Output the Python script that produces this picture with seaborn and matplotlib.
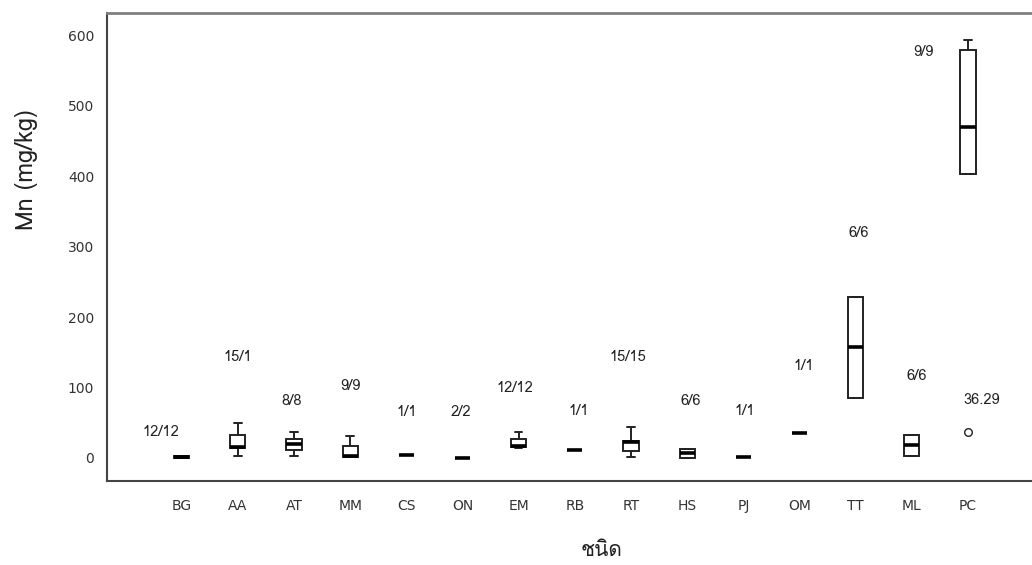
import numpy as np
import pandas as pd
import matplotlib
matplotlib.use("Agg")
import matplotlib.pyplot as plt
from matplotlib import font_manager
from matplotlib.ft2font import FT2Font
import seaborn as sns

# Plant species codes along the x axis
species = ["BG", "AA", "AT", "MM", "CS", "ON", "EM", "RB", "RT",
           "HS", "PJ", "OM", "TT", "ML", "PC"]

# Five-number summaries of Mn concentration (mg/kg) per species
lower_whisker = [0.0, 2.4, 2.8, 1.5, 3.8, 0.5, 14.2, 11.8, 1.0, 0.0, 1.9, 36.0, 85.0, 3.4, 403.8]
q1_values     = [0.0, 13.8, 11.4, 1.8, 3.8, 0.5, 15.5, 11.8, 10.4, 0.0, 1.9, 36.0, 85.0, 3.4, 403.8]
medians       = [1.0, 16.0, 20.3, 2.5, 3.8, 0.5, 16.5, 11.8, 22.3, 6.7, 1.9, 36.0, 157.0, 18.8, 469.5]
q3_values     = [2.5, 32.7, 27.4, 17.5, 3.8, 0.5, 27.4, 11.8, 24.6, 13.2, 1.9, 36.0, 228.7, 33.0, 580.0]
upper_whisker = [2.5, 49.3, 37.4, 31.7, 3.8, 0.5, 36.5, 11.8, 44.5, 13.2, 1.9, 36.0, 228.7, 33.0, 593.7]

# Outlying sample
outlier_species = ["PC"]
outlier_values = [36.29]

# Sample count annotations (text, x in category units, y in mg/kg)
count_texts = ["12/12", "15/1", "8/8", "9/9", "1/1", "2/2", "12/12", "1/1",
               "15/15", "6/6", "1/1", "1/1", "6/6", "6/6", "36.29", "9/9"]
count_x = [-0.37, 1.0, 1.96, 3.01, 4.0, 4.97, 5.93, 7.06,
           7.95, 9.07, 10.03, 11.08, 12.06, 13.09, 14.25, 13.2]
count_y = [37, 143.5, 81.4, 101.7, 65, 65, 99, 67.2,
           143.5, 81.4, 67.2, 130.7, 320, 116, 82.4, 576.4]

y_ticks = [0, 100, 200, 300, 400, 500, 600]


def find_font_with(char):
    """Return the family name of an installed font that covers `char`."""
    code = ord(char)
    for entry in font_manager.fontManager.ttflist:
        try:
            if code in FT2Font(entry.fname).get_charmap():
                return entry.name
        except Exception:
            continue
    return "DejaVu Sans"


sns.set_style("white")
thai_family = find_font_with("ช")
plt.rcParams["font.family"] = ["DejaVu Sans"]

# Long-form table built from the summaries
records = []
for i, sp in enumerate(species):
    for v in (lower_whisker[i], q1_values[i], medians[i], q3_values[i], upper_whisker[i]):
        records.append({"species": sp, "Mn": v})
df = pd.DataFrame(records)

fig = plt.figure(figsize=(10.32, 5.65), dpi=100)
ax = fig.add_axes([0.1034, 0.1487, 0.8966, 0.8288])

sns.boxplot(data=df, x="species", y="Mn", order=species, ax=ax,
            color="white", linecolor="#222222", linewidth=1.4, width=0.27,
            whis=(0, 100), showfliers=False,
            medianprops=dict(color="black", linewidth=2.6))

out_x = [species.index(s) for s in outlier_species]
sns.scatterplot(x=out_x, y=outlier_values, ax=ax, marker="o", s=30,
                facecolor="white", edgecolor="#222222", linewidth=1.0,
                legend=False, zorder=5)

for t, x, y in zip(count_texts, count_x, count_y):
    ax.text(x, y, t, ha="center", va="center", fontsize=10.5,
            color="#222222", family=[thai_family, "DejaVu Sans"])

ax.set_xlim(-1.335, 15.14)
ax.set_ylim(-32.7, 632.5)
ax.set_yticks(y_ticks)
ax.set_yticklabels([str(v) for v in y_ticks])

ax.tick_params(axis="both", direction="out", length=7, width=1.0,
               color="#444444", labelcolor="#333333", labelsize=10)
ax.tick_params(axis="x", pad=6)
ax.tick_params(axis="y", pad=2)

for side in ("left", "bottom"):
    ax.spines[side].set_color("#444444")
    ax.spines[side].set_linewidth(1.5)
ax.spines["top"].set_color("#808080")
ax.spines["top"].set_linewidth(2.0)
ax.spines["right"].set_visible(False)

ax.set_xlabel("ชนิด", fontsize=15, family=[thai_family, "DejaVu Sans"], color="#222222")
ax.xaxis.set_label_coords(0.535, -0.1495)
ax.set_ylabel("Mn (mg/kg)", fontsize=17, family=[thai_family, "DejaVu Sans"],
              color="#222222", fontweight="light")
ax.yaxis.set_label_coords(-0.0872, 0.664)
ax.xaxis.label.set_va("center")
ax.yaxis.label.set_va("center")

fig.savefig("out.png", dpi=100)
